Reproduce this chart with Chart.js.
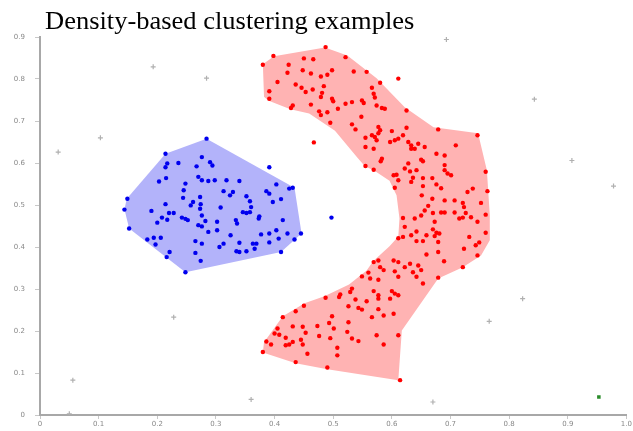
<!DOCTYPE html>
<html>
<head>
<meta charset="utf-8">
<script src="https://cdn.jsdelivr.net/npm/chart.js@4.4.1/dist/chart.umd.min.js"></script>
<style>
  body { margin: 0; background: #fff; }
  #wrap { position: relative; width: 633px; height: 431px; }
  #title {
    position: absolute; left: 45px; top: 7.5px;
    font: 25px/25px "Liberation Serif", "Times New Roman", serif;
    color: #000; white-space: nowrap;
    transform: scaleX(1.06); transform-origin: left top;
  }
</style>
</head>
<body>
<div id="wrap">
  <canvas id="chart"></canvas>
  <div id="title">Density-based clustering examples</div>
</div>
<script>
// axis ticks
const xTicks = [0, 0.1, 0.2, 0.3, 0.4, 0.5, 0.6, 0.7, 0.8, 0.9, 1];
const yTicks = [0, 0.1, 0.2, 0.3, 0.4, 0.5, 0.6, 0.7, 0.8, 0.9];

// cluster 1 (blue)
const bluePoints = [
  [0.284,0.658],[0.214,0.622],[0.217,0.599],[0.214,0.590],[0.236,0.600],[0.276,0.614],[0.267,0.592],[0.290,0.602],[0.294,0.594],[0.391,0.590],
  [0.203,0.556],[0.215,0.564],[0.248,0.551],[0.270,0.567],[0.276,0.559],[0.287,0.557],[0.298,0.559],[0.318,0.559],[0.340,0.557],[0.403,0.549],
  [0.425,0.539],[0.431,0.541],[0.245,0.535],[0.313,0.533],[0.329,0.531],[0.324,0.523],[0.386,0.533],[0.391,0.527],[0.149,0.515],[0.244,0.517],
  [0.273,0.519],[0.352,0.521],[0.358,0.509],[0.411,0.514],[0.397,0.507],[0.214,0.502],[0.261,0.507],[0.257,0.499],[0.274,0.502],[0.273,0.491],
  [0.308,0.494],[0.360,0.495],[0.144,0.489],[0.190,0.486],[0.220,0.481],[0.228,0.481],[0.346,0.483],[0.352,0.481],[0.358,0.483],[0.276,0.475],
  [0.374,0.473],[0.373,0.468],[0.208,0.470],[0.217,0.465],[0.242,0.470],[0.248,0.467],[0.252,0.464],[0.334,0.464],[0.336,0.456],[0.414,0.464],
  [0.200,0.458],[0.282,0.462],[0.302,0.460],[0.270,0.452],[0.276,0.449],[0.152,0.444],[0.287,0.436],[0.302,0.440],[0.403,0.440],[0.325,0.428],
  [0.377,0.430],[0.391,0.432],[0.422,0.432],[0.445,0.432],[0.194,0.422],[0.206,0.422],[0.183,0.418],[0.407,0.420],[0.434,0.418],[0.265,0.414],
  [0.276,0.408],[0.197,0.406],[0.313,0.408],[0.306,0.400],[0.340,0.410],[0.363,0.408],[0.369,0.408],[0.391,0.411],[0.221,0.388],[0.265,0.386],
  [0.335,0.390],[0.340,0.388],[0.352,0.390],[0.366,0.396],[0.411,0.388],[0.216,0.376],[0.274,0.367],[0.248,0.340],[0.497,0.470]
];

// cluster 2 (red)
const redPoints = [
  [0.487,0.876],[0.398,0.855],[0.521,0.852],[0.380,0.834],[0.450,0.849],[0.466,0.847],[0.424,0.834],[0.422,0.815],[0.448,0.821],[0.462,0.813],
  [0.479,0.806],[0.490,0.810],[0.498,0.821],[0.535,0.818],[0.557,0.817],[0.611,0.801],[0.405,0.793],[0.436,0.787],[0.446,0.779],[0.453,0.769],
  [0.465,0.775],[0.484,0.783],[0.481,0.767],[0.479,0.757],[0.498,0.753],[0.500,0.747],[0.391,0.771],[0.391,0.753],[0.431,0.737],[0.428,0.731],
  [0.462,0.739],[0.521,0.741],[0.532,0.745],[0.549,0.749],[0.552,0.743],[0.566,0.779],[0.569,0.765],[0.571,0.756],[0.580,0.791],[0.574,0.737],
  [0.583,0.731],[0.588,0.729],[0.476,0.723],[0.479,0.714],[0.490,0.721],[0.508,0.729],[0.495,0.696],[0.548,0.710],[0.532,0.692],[0.538,0.680],
  [0.577,0.686],[0.580,0.678],[0.600,0.676],[0.625,0.684],[0.625,0.725],[0.679,0.680],[0.746,0.666],[0.467,0.649],[0.555,0.660],[0.566,0.666],
  [0.571,0.662],[0.574,0.654],[0.577,0.671],[0.605,0.654],[0.597,0.650],[0.611,0.658],[0.619,0.666],[0.628,0.650],[0.633,0.642],[0.645,0.646],
  [0.656,0.638],[0.633,0.634],[0.639,0.634],[0.555,0.638],[0.569,0.634],[0.709,0.642],[0.676,0.622],[0.690,0.618],[0.583,0.610],[0.650,0.608],
  [0.581,0.604],[0.555,0.593],[0.569,0.584],[0.628,0.599],[0.653,0.604],[0.622,0.587],[0.631,0.580],[0.642,0.583],[0.690,0.595],[0.690,0.583],
  [0.695,0.575],[0.701,0.571],[0.760,0.579],[0.608,0.572],[0.603,0.571],[0.636,0.565],[0.653,0.564],[0.669,0.564],[0.611,0.559],[0.633,0.555],
  [0.676,0.549],[0.684,0.540],[0.605,0.541],[0.653,0.545],[0.738,0.539],[0.729,0.531],[0.763,0.533],[0.651,0.523],[0.669,0.515],[0.690,0.511],
  [0.707,0.511],[0.721,0.505],[0.723,0.495],[0.752,0.505],[0.662,0.498],[0.656,0.487],[0.650,0.475],[0.639,0.468],[0.619,0.469],[0.670,0.481],
  [0.684,0.482],[0.690,0.482],[0.707,0.482],[0.715,0.468],[0.721,0.470],[0.735,0.471],[0.726,0.481],[0.746,0.460],[0.760,0.477],[0.673,0.460],
  [0.622,0.448],[0.670,0.442],[0.676,0.434],[0.681,0.432],[0.642,0.437],[0.633,0.428],[0.659,0.428],[0.673,0.426],[0.611,0.421],[0.619,0.424],
  [0.642,0.414],[0.653,0.414],[0.679,0.412],[0.732,0.424],[0.760,0.434],[0.743,0.404],[0.749,0.411],[0.723,0.396],[0.746,0.380],[0.721,0.352],
  [0.577,0.368],[0.569,0.364],[0.603,0.368],[0.611,0.364],[0.631,0.360],[0.645,0.356],[0.659,0.382],[0.679,0.388],[0.689,0.366],[0.580,0.352],
  [0.586,0.345],[0.560,0.339],[0.549,0.330],[0.563,0.325],[0.577,0.322],[0.605,0.342],[0.611,0.329],[0.622,0.352],[0.636,0.340],[0.642,0.329],
  [0.650,0.345],[0.679,0.327],[0.653,0.313],[0.532,0.301],[0.529,0.293],[0.512,0.287],[0.510,0.281],[0.487,0.279],[0.569,0.295],[0.577,0.285],
  [0.577,0.277],[0.600,0.295],[0.605,0.289],[0.611,0.285],[0.597,0.277],[0.557,0.271],[0.538,0.275],[0.526,0.259],[0.543,0.255],[0.549,0.251],
  [0.577,0.252],[0.450,0.260],[0.436,0.247],[0.414,0.233],[0.498,0.235],[0.493,0.219],[0.526,0.221],[0.566,0.233],[0.586,0.237],[0.603,0.241],
  [0.431,0.211],[0.448,0.210],[0.473,0.212],[0.501,0.206],[0.405,0.206],[0.400,0.194],[0.408,0.191],[0.419,0.184],[0.453,0.196],[0.476,0.188],
  [0.495,0.183],[0.524,0.198],[0.532,0.182],[0.543,0.176],[0.574,0.190],[0.611,0.190],[0.386,0.175],[0.394,0.168],[0.431,0.174],[0.425,0.168],
  [0.419,0.166],[0.445,0.179],[0.448,0.168],[0.507,0.160],[0.586,0.168],[0.380,0.150],[0.456,0.146],[0.507,0.142],[0.436,0.126],[0.490,0.113],
  [0.614,0.083]
];

// unclustered points
const noisePoints = [
  [0.193,0.829],[0.284,0.802],[0.103,0.660],[0.031,0.626],[0.228,0.233],[0.056,0.083],[0.050,0.003],[0.360,0.037],
  [0.823,0.277],[0.766,0.223],[0.670,0.031],[0.693,0.894],[0.843,0.752],[0.907,0.606],[0.978,0.545]
];
const greenPoints = [[0.953,0.043]];

// cluster outlines
const blueHull = [
  [0.284,0.658],[0.434,0.541],[0.446,0.432],[0.411,0.388],[0.248,0.340],[0.152,0.444],[0.144,0.490],[0.148,0.515],[0.214,0.622]
];
const redHull = [
  [0.380,0.835],[0.399,0.854],[0.486,0.875],[0.524,0.856],[0.574,0.802],[0.622,0.733],[0.671,0.685],[0.747,0.671],
  [0.762,0.583],[0.767,0.476],[0.767,0.416],[0.752,0.380],[0.721,0.352],[0.679,0.325],[0.617,0.201],[0.611,0.083],
  [0.490,0.109],[0.436,0.123],[0.380,0.149],[0.382,0.173],[0.399,0.206],[0.414,0.235],[0.451,0.266],[0.485,0.283],
  [0.527,0.311],[0.557,0.344],[0.568,0.366],[0.596,0.402],[0.611,0.425],[0.613,0.468],[0.608,0.523],[0.596,0.558],
  [0.569,0.583],[0.554,0.592],[0.541,0.613],[0.503,0.677],[0.459,0.718],[0.427,0.728],[0.389,0.749],[0.382,0.758]
];

const toXY = (arr) => arr.map(([x, y]) => ({ x, y }));

// fill the cluster shapes under the points
const hullPlugin = {
  id: "hulls",
  beforeDatasetsDraw(chart) {
    const { ctx } = chart;
    const xs = chart.scales.x, ys = chart.scales.y;
    [[blueHull, "#b3b3fa"], [redHull, "#ffb3b3"]].forEach(([pts, color]) => {
      ctx.save();
      ctx.beginPath();
      pts.forEach(([x, y], i) => {
        const px = xs.getPixelForValue(x), py = ys.getPixelForValue(y);
        if (i === 0) ctx.moveTo(px, py);
        else ctx.lineTo(px, py);
      });
      ctx.closePath();
      ctx.fillStyle = color;
      ctx.fill();
      ctx.restore();
    });
  },
};

const tickFont = { family: "DejaVu Sans", size: 7 };

new Chart(document.getElementById("chart"), {
  type: "scatter",
  data: {
    datasets: [
      {
        data: toXY(greenPoints),
        pointStyle: "rect", pointRadius: 2.5,
        backgroundColor: "#2a8c2a", borderWidth: 0,
      },
      {
        data: toXY(bluePoints),
        pointRadius: 2.2,
        backgroundColor: "#0000ee", borderWidth: 0,
      },
      {
        data: toXY(redPoints),
        pointRadius: 2.2,
        backgroundColor: "#ff0000", borderWidth: 0,
      },
      {
        data: toXY(noisePoints),
        pointStyle: "cross", pointRadius: 2.5,
        borderColor: "#b0b0b0", borderWidth: 1.2,
      },
    ],
  },
  options: {
    responsive: true,
    maintainAspectRatio: false,
    animation: false,
    events: [],
    layout: { padding: { top: 37, right: 1, left: 0, bottom: 0 } },
    plugins: { legend: { display: false }, tooltip: { enabled: false } },
    scales: {
      x: {
        type: "linear",
        min: xTicks[0],
        max: xTicks[xTicks.length - 1],
        afterBuildTicks: (s) => { s.ticks = xTicks.map((v) => ({ value: v })); },
        afterFit: (s) => { s.height = 16; },
        ticks: { font: tickFont, color: "#888", padding: 1, maxRotation: 0 },
        grid: { drawOnChartArea: false, tickLength: 4, color: "#c8c8c8" },
        border: { color: "#a8a8a8", width: 2 },
      },
      y: {
        type: "linear",
        min: yTicks[0],
        max: yTicks[yTicks.length - 1],
        afterBuildTicks: (s) => { s.ticks = yTicks.map((v) => ({ value: v })); },
        afterFit: (s) => { s.width = 40; },
        ticks: { font: tickFont, color: "#888", padding: 10 },
        grid: { drawOnChartArea: false, tickLength: 5, color: "#c8c8c8" },
        border: { color: "#a8a8a8", width: 2 },
      },
    },
  },
  plugins: [hullPlugin],
});
</script>
</body>
</html>
